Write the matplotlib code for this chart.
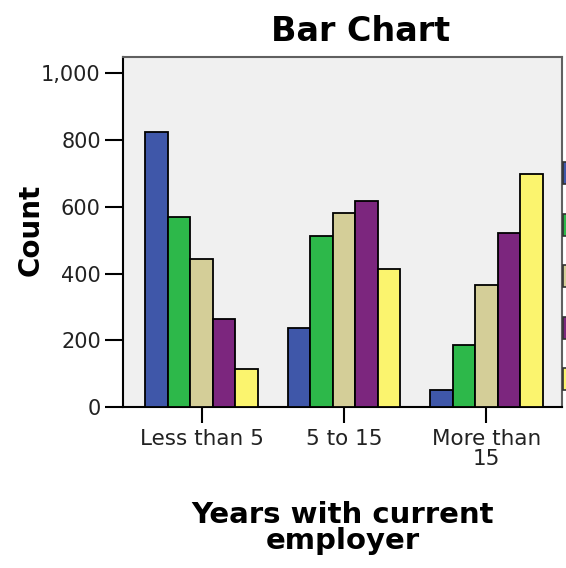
import numpy as np
import matplotlib
matplotlib.use('Agg')
import matplotlib.pyplot as plt
from matplotlib.patches import Rectangle

# categories on the x axis
categories = ['Less than 5', '5 to 15', 'More than\n15']
# five series (legend cut off at right edge of the picture)
series_names = ['S1', 'S2', 'S3', 'S4', 'S5']
series_colors = ['#3F57A9', '#2DB84A', '#D4CE98', '#7C267E', '#FBF46E']
counts = [
    [825, 237, 50],
    [568, 512, 187],
    [443, 582, 366],
    [265, 618, 522],
    [113, 413, 699],
]
yticks = [0, 200, 400, 600, 800, 1000]
ytick_labels = ['0', '200', '400', '600', '800', '1,000']

plt.rcParams['font.family'] = ['DejaVu Sans']

fig = plt.figure(figsize=(5.66, 5.68), dpi=100)
ax = fig.add_axes([123/566, 1 - 407/568, (562-123)/566, (407-57)/568])
ax.set_facecolor('#F0F0F0')

x = np.arange(len(categories))
w = 0.158
for i, (vals, col) in enumerate(zip(counts, series_colors)):
    ax.bar(x + (i - 2) * w, vals, width=w, color=col, edgecolor='black',
           linewidth=1.3, label=series_names[i], zorder=3)

ax.set_xlim(-0.553, 0.532 + 2)
ax.set_ylim(0, 1049)
ax.set_yticks(yticks)
ax.set_yticklabels(ytick_labels)
ax.set_xticks(x)
ax.set_xticklabels(categories, linespacing=1.0)
ax.tick_params(axis='y', length=13, width=1.5, pad=3, labelsize=15)
ax.tick_params(axis='x', length=11.5, width=1.5, pad=4, labelsize=15.5)
for lab in ax.get_xticklabels() + ax.get_yticklabels():
    lab.set_color('#222222')

for side in ['left', 'bottom']:
    ax.spines[side].set_color('black')
    ax.spines[side].set_linewidth(1.5)
for side in ['top', 'right']:
    ax.spines[side].set_color('#606060')
    ax.spines[side].set_linewidth(1.5)

fig.text(361/566, 1 - 41/568, 'Bar Chart', fontsize=24, fontweight='bold',
         ha='center', va='baseline')
fig.text(31/566, 1 - 230/568, 'Count', fontsize=20, fontweight='bold',
         rotation=90, ha='center', va='center')
fig.text(343/566, 1 - 501/568, 'Years with current\nemployer', fontsize=21,
         fontweight='bold', ha='center', va='top', linespacing=0.9)

# legend swatches cut off at the right edge
for i, col in enumerate(series_colors):
    yc = 173 + i * 51.5
    fig.add_artist(Rectangle((563/566, 1 - (yc + 11)/568), 10/566, 22/568,
                             transform=fig.transFigure, facecolor=col,
                             edgecolor='#333333', linewidth=1.2))

fig.savefig('out.png', dpi=100)
